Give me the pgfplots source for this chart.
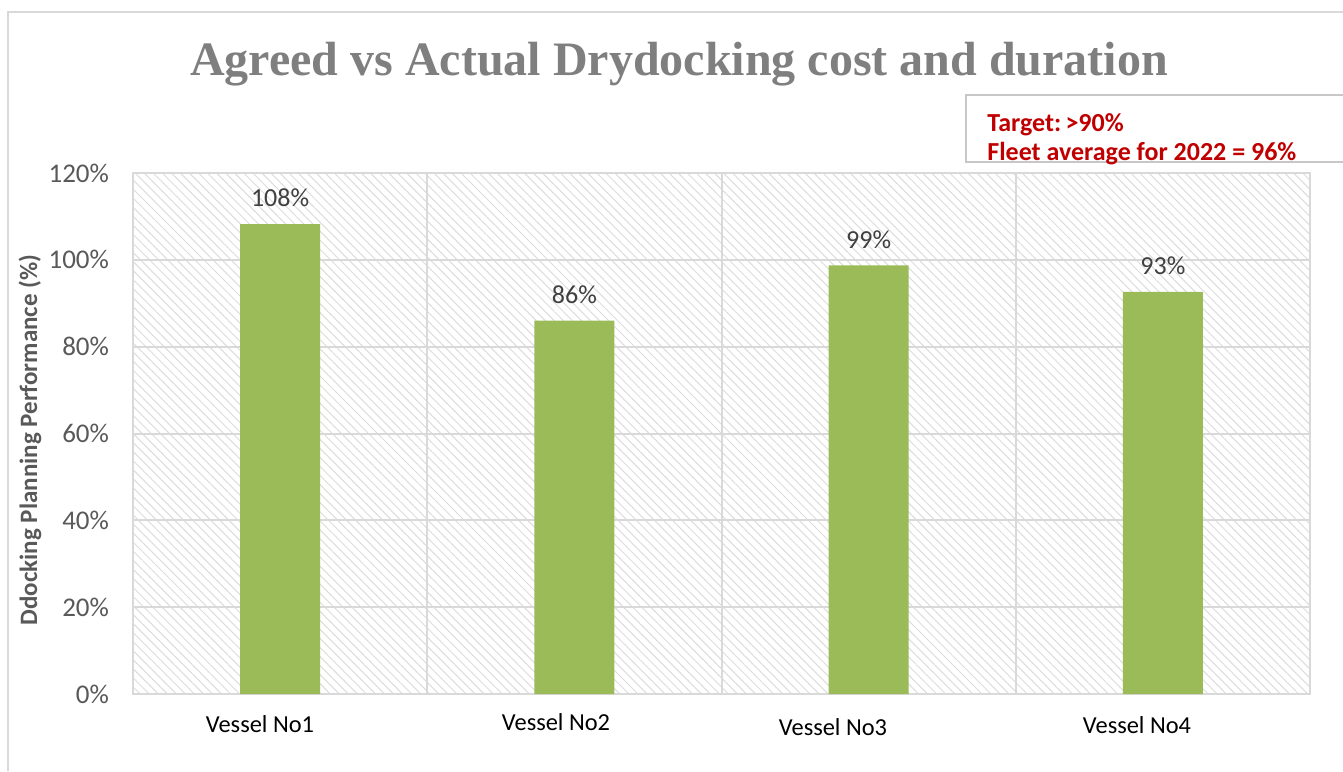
\documentclass[border=0pt]{standalone}
\usepackage{pgfplots}
\pgfplotsset{compat=1.18}
\usepackage{fontspec}
\setmainfont{Carlito}
\newfontfamily\titlefont{Liberation Serif}
\usetikzlibrary{patterns.meta}
\definecolor{bargreen}{HTML}{9BBB59}
\definecolor{gridgray}{HTML}{D9D9D9}
\definecolor{hatch}{HTML}{DCDCDC}
\definecolor{tickgray}{HTML}{595959}
\definecolor{titlegray}{HTML}{7F7F7F}
\definecolor{darkred}{HTML}{C00000}
\begin{document}
\begin{tikzpicture}
\useasboundingbox (0,0) rectangle (671.5pt,-385.5pt);
% chart frame
\draw[gridgray, line width=1pt] (4pt,-385.5pt) -- (4pt,-6pt) -- (671.5pt,-6pt);
% title
\node[font=\titlefont\bfseries\fontsize{24}{29}\selectfont, text=titlegray] at (339.5pt,-32pt) {Agreed vs Actual Drydocking cost and duration};
\begin{axis}[
  at={(66.5pt,-86.5pt)}, anchor=north west,
  scale only axis, width=588.5pt, height=260.5pt,
  xmin=-0.5, xmax=3.5, ymin=0, ymax=120,
  ytick={0,20,...,120},
  yticklabel={\pgfmathprintnumber{\tick}\%},
  /pgf/number format/assume math mode=true,
  xtick={0,1,2,3}, xticklabels={},
  minor xtick={0.5,1.5,2.5},
  major x tick style={draw=none},
  minor x tick style={draw=none},
  y tick style={draw=none},
  ymajorgrids, xminorgrids,
  grid style={gridgray, line width=1pt},
  minor grid style={gridgray, line width=1pt},
  axis line style={gridgray, line width=1pt},
  axis background/.style={pattern={Lines[angle=-45,distance=3.2pt,line width=0.5pt]}, pattern color=hatch},
  tick label style={font=\fontsize{13.5}{15}\selectfont, text=tickgray},
  yticklabel style={xshift=-8.5pt},
  clip=false,
]
\addplot[ybar, bar width=40pt, fill=bargreen, draw=none,
  point meta=explicit symbolic,
  nodes near coords,
  every node near coord/.append style={font=\fontsize{13}{15}\selectfont, text=black!75, yshift=5pt}]
  coordinates {(0,108.2) [108\%] (1,86.0) [86\%] (2,98.7) [99\%] (3,92.6) [93\%]};
\end{axis}
% y label
\node[rotate=90, font=\bfseries\fontsize{12.5}{15}\selectfont, text=tickgray] at (15pt,-220pt) {Ddocking Planning Performance (\%)};
% category labels
\begin{scope}[every node/.style={font=\fontsize{12.2}{14}\selectfont, text=black}]
\node at (130pt,-362pt) {Vessel No1};
\node at (278pt,-361pt) {Vessel No2};
\node at (416.5pt,-363.5pt) {Vessel No3};
\node at (568.5pt,-362.5pt) {Vessel No4};
\end{scope}
% target box
\draw[gridgray!80!gray, line width=1pt] (672pt,-47.5pt) -- (483pt,-47.5pt) -- (483pt,-80.8pt) -- (672pt,-80.8pt);
\node[anchor=base west, inner sep=0pt, font=\bfseries\fontsize{13}{15}\selectfont, text=darkred] at (493.5pt,-65.8pt) {Target:\,>90\%};
\node[anchor=base west, inner sep=0pt, font=\bfseries\fontsize{13}{15}\selectfont, text=darkred] at (493.5pt,-80pt) {Fleet average for 2022 = 96\%};
\end{tikzpicture}
\end{document}
